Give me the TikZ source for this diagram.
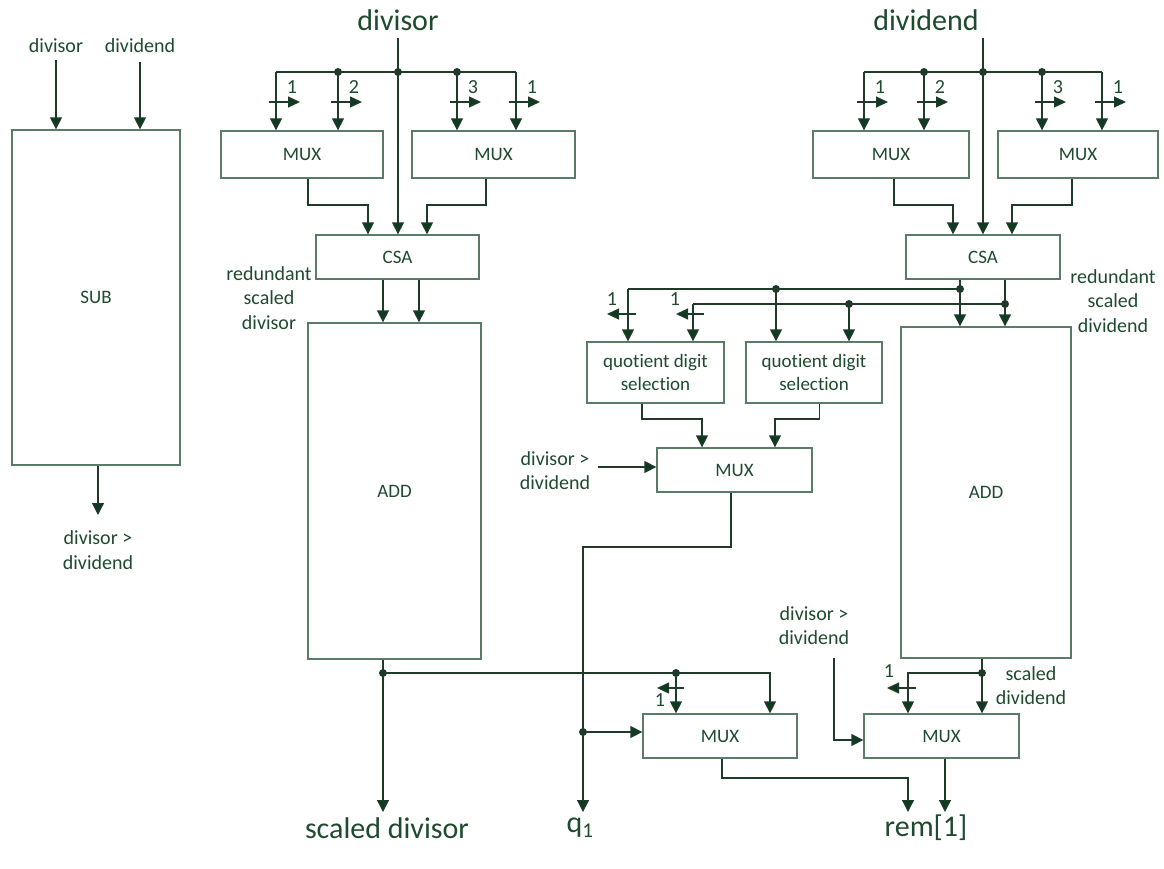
\documentclass[tikz,border=0pt]{standalone}
\usepackage{fontspec}
\setmainfont{Carlito}[Ligatures=NoCommon]
\usetikzlibrary{arrows.meta}
\definecolor{textc}{HTML}{1E4A2D}
\definecolor{boxc}{HTML}{5B7B69}
\definecolor{wirec}{HTML}{1F3A29}
\definecolor{headc}{HTML}{0E3A1F}
\tikzset{
  box/.style={draw=boxc, line width=1.3pt, fill=white, inner sep=0pt, text=textc, font=\fontsize{19}{23}\selectfont},
  wire/.style={draw=wirec, line width=1.3pt},
  arr/.style={wire, -{Triangle[width=12pt,length=12pt,fill=headc]}},
  sharr/.style={wire, -{Triangle[width=11pt,length=12pt,fill=headc]}},
  small/.style={text=textc, inner sep=0pt, align=center, font=\fontsize{20}{24.5}\selectfont},
  big/.style={text=textc, inner sep=0pt, align=center, font=\fontsize{30}{34}\selectfont},
  dot/.style={fill=wirec}
}
\begin{document}
\begin{tikzpicture}[x=1pt,y=-1pt]
\useasboundingbox (0,0) rectangle (1164,869);
% ---------- boxes ----------
\node[box, minimum width=168pt, minimum height=335pt] (sub) at (96,297.5) {SUB};
\node[box, minimum width=162pt, minimum height=47pt] (mux1) at (302,154.5) {MUX};
\node[box, minimum width=163pt, minimum height=47pt] (mux2) at (493.5,154.5) {MUX};
\node[box, minimum width=163pt, minimum height=44pt] (csa1) at (397.5,257) {CSA};
\node[box, minimum width=173pt, minimum height=336pt] (add1) at (394.5,491) {ADD};
\node[box, minimum width=156pt, minimum height=47pt] (mux3) at (891,154.5) {MUX};
\node[box, minimum width=160pt, minimum height=47pt] (mux4) at (1078,154.5) {MUX};
\node[box, minimum width=154pt, minimum height=44pt] (csa2) at (983,257) {CSA};
\node[box, minimum width=170pt, minimum height=331pt] (add2) at (986,492.5) {ADD};
\node[box, minimum width=137pt, minimum height=61pt, align=center] (qds1) at (655.5,372.5) {quotient digit\\selection};
\node[box, minimum width=136pt, minimum height=61pt, align=center] (qds2) at (814,372.5) {quotient digit\\selection};
\node[box, minimum width=155pt, minimum height=44pt] (muxm) at (734.5,470) {MUX};
\node[box, minimum width=154pt, minimum height=44pt] (muxb1) at (720,736) {MUX};
\node[box, minimum width=155pt, minimum height=44pt] (muxb2) at (941.5,736) {MUX};
% ---------- labels ----------
\node[small] (lsdv) at (56,46) {divisor};
\node[small] (lsdd) at (140,46) {dividend};
\node[small] (lsout) at (98,550) {divisor >\\dividend};
\node[big] (tdv) at (398,20) {divisor};
\node[big] (tdd) at (926,20) {dividend};
\node[small] (lrsdv) at (269,298) {redundant\\scaled\\divisor};
\node[small] (lrsdd) at (1113,301) {redundant\\scaled\\dividend};
\node[small] (lgt1) at (555,470.5) {divisor >\\dividend};
\node[small] (lgt2) at (814,625.5) {divisor >\\dividend};
\node[small] (lsd) at (1031,685.5) {scaled\\dividend};
\node[big] (osd) at (387,828) {scaled divisor};
\node[big] (oq) at (580,828) {q\textsubscript{1}};
\node[big] (orem) at (926,828) {rem[1]};
% ---------- SUB ----------
\coordinate (sa) at (56,60);
\coordinate (sb) at (140,62);
\draw[arr] (sa) -- (sa |- sub.north);
\draw[arr] (sb) -- (sb |- sub.north);
\coordinate (so) at (98,515);
\draw[arr] (so |- sub.south) -- (so);
% ---------- left top bus ----------
\coordinate (dvT) at (398,38);
\coordinate (b1) at (276,72);
\coordinate (b2) at (338,72);
\coordinate (b0) at (398,72);
\coordinate (b3) at (457,72);
\coordinate (b4) at (516,72);
\draw[wire] (b1) -- (b4);
\draw[arr] (dvT) -- (dvT |- csa1.north);
\draw[arr] (b1) -- (b1 |- mux1.north);
\draw[arr] (b2) -- (b2 |- mux1.north);
\draw[arr] (b3) -- (b3 |- mux2.north);
\draw[arr] (b4) -- (b4 |- mux2.north);
\foreach \c in {b2,b0,b3} \fill[dot] (\c) circle (4);
\foreach \x/\l/\n in {276/1/la,338/2/lb,457/3/lc,516/1/ld}{
  \draw[sharr] (\x-7,102) -- (\x+24,102);
  \node[small] (\n) at (\x+16,87) {\l};
}
% MUX -> CSA
\coordinate (m1o) at (308,205);
\coordinate (m2o) at (486,205);
\coordinate (c1a) at (368,205);
\coordinate (c1c) at (427,205);
\draw[arr] (m1o |- mux1.south) -- (m1o) -- (c1a) -- (c1a |- csa1.north);
\draw[arr] (m2o |- mux2.south) -- (m2o) -- (c1c) -- (c1c |- csa1.north);
% CSA -> ADD
\coordinate (c1o1) at (383,290);
\coordinate (c1o2) at (419,290);
\draw[arr] (c1o1 |- csa1.south) -- (c1o1 |- add1.north);
\draw[arr] (c1o2 |- csa1.south) -- (c1o2 |- add1.north);
% ---------- right top bus ----------
\coordinate (ddT) at (983,38);
\coordinate (r1) at (864,72);
\coordinate (r2) at (924,72);
\coordinate (r0) at (983,72);
\coordinate (r3) at (1042,72);
\coordinate (r4) at (1102,72);
\draw[wire] (r1) -- (r4);
\draw[arr] (ddT) -- (ddT |- csa2.north);
\draw[arr] (r1) -- (r1 |- mux3.north);
\draw[arr] (r2) -- (r2 |- mux3.north);
\draw[arr] (r3) -- (r3 |- mux4.north);
\draw[arr] (r4) -- (r4 |- mux4.north);
\foreach \c in {r2,r0,r3} \fill[dot] (\c) circle (4);
\foreach \x/\l/\n in {864/1/lra,924/2/lrb,1042/3/lrc,1102/1/lrd}{
  \draw[sharr] (\x-7,102) -- (\x+24,102);
  \node[small] (\n) at (\x+16,87) {\l};
}
\coordinate (m3o) at (894,205);
\coordinate (m4o) at (1072,205);
\coordinate (c2a) at (953,205);
\coordinate (c2c) at (1012,205);
\draw[arr] (m3o |- mux3.south) -- (m3o) -- (c2a) -- (c2a |- csa2.north);
\draw[arr] (m4o |- mux4.south) -- (m4o) -- (c2c) -- (c2c |- csa2.north);
% CSA2 -> ADD2 and QDS
\coordinate (j1) at (960,289);
\coordinate (j2) at (1005,304);
\draw[arr] (j1 |- csa2.south) -- (j1 |- add2.north);
\draw[arr] (j2 |- csa2.south) -- (j2 |- add2.north);
\coordinate (q1a) at (628,289);
\coordinate (q2a) at (776,289);
\coordinate (q1b) at (693,304);
\coordinate (q2b) at (849,304);
\draw[wire] (j1) -- (q1a);
\draw[wire] (j2) -- (q1b);
\draw[arr] (q1a) -- (q1a |- qds1.north);
\draw[arr] (q1b) -- (q1b |- qds1.north);
\draw[arr] (q2a) -- (q2a |- qds2.north);
\draw[arr] (q2b) -- (q2b |- qds2.north);
\foreach \c in {j1,j2,q2a,q2b} \fill[dot] (\c) circle (4);
\draw[sharr] (636,314) -- (607,314);
\node[small] (lqa) at (612,299) {1};
\draw[sharr] (704,314) -- (676,314);
\node[small] (lqb) at (675,299) {1};
% QDS -> MUXm
\coordinate (qo1) at (642,419);
\coordinate (qo2) at (819.5,419);
\coordinate (mma) at (702,419);
\coordinate (mmb) at (775,419);
\draw[arr] (qo1 |- qds1.south) -- (qo1) -- (mma) -- (mma |- muxm.north);
\draw[arr] (qo2 |- qds2.south) -- (qo2) -- (mmb) -- (mmb |- muxm.north);
\coordinate (gt1) at (598,467);
\draw[arr] (gt1) -- (gt1 -| muxm.west);
% MUXm -> q1
\coordinate (mo) at (731,547);
\coordinate (qc) at (583,547);
\coordinate (qe) at (583,812);
\draw[arr] (mo |- muxm.south) -- (mo) -- (qc) -- (qe);
\coordinate (qd) at (583,732);
\fill[dot] (qd) circle (4);
\draw[arr] (qd) -- (qd -| muxb1.west);
% ADD1 output
\coordinate (ao) at (383,673);
\coordinate (ae) at (383,812);
\coordinate (ar) at (770,673);
\coordinate (ad) at (676,673);
\draw[arr] (ao |- add1.south) -- (ae);
\draw[arr] (ao) -- (ar) -- (ar |- muxb1.north);
\draw[arr] (ad) -- (ad |- muxb1.north);
\fill[dot] (ao) circle (4);
\fill[dot] (ad) circle (4);
\draw[sharr] (684,688) -- (657,688);
\node[small] (lba) at (660,700) {1};
% ADD2 output
\coordinate (a2o) at (982,673);
\coordinate (a2l) at (908,673);
\draw[arr] (a2o |- add2.south) -- (a2o |- muxb2.north);
\draw[arr] (a2o) -- (a2l) -- (a2l |- muxb2.north);
\fill[dot] (a2o) circle (4);
\draw[sharr] (916,688) -- (887,688);
\node[small] (lbb) at (889,671) {1};
\coordinate (gt2) at (834,658);
\coordinate (gt2b) at (834,740);
\draw[arr] (gt2) -- (gt2b) -- (gt2b -| muxb2.west);
% bottom MUX outputs
\coordinate (mb1) at (722,778);
\coordinate (rm1) at (908,778);
\draw[arr] (mb1 |- muxb1.south) -- (mb1) -- (rm1) -- (908,812);
\coordinate (rm2) at (945,812);
\draw[arr] (rm2 |- muxb2.south) -- (rm2);
\end{tikzpicture}
\end{document}
